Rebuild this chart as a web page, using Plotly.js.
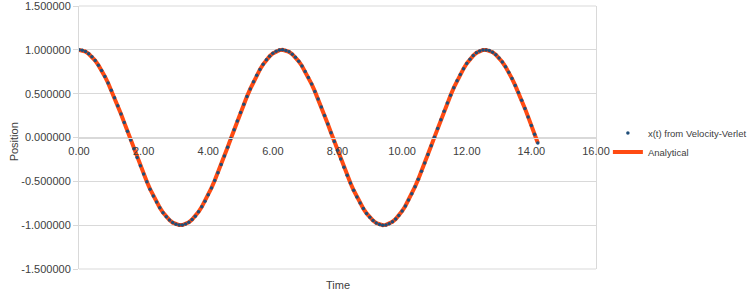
<!DOCTYPE html>
<html><head><meta charset="utf-8">
<script src="https://cdn.plot.ly/plotly-3.0.1.min.js"></script>
<style>html,body{margin:0;padding:0;background:#fff}#c{width:750px;height:291px}</style>
</head><body><div id="c"></div>
<script>
const time = [0.0,0.1,0.2,0.3,0.4,0.5,0.6,0.7,0.8,0.9,1.0,1.1,1.2,1.3,1.4,1.5,1.6,1.7,1.8,1.9,2.0,2.1,2.2,2.3,2.4,2.5,2.6,2.7,2.8,2.9,3.0,3.1,3.2,3.3,3.4,3.5,3.6,3.7,3.8,3.9,4.0,4.1,4.2,4.3,4.4,4.5,4.6,4.7,4.8,4.9,5.0,5.1,5.2,5.3,5.4,5.5,5.6,5.7,5.8,5.9,6.0,6.1,6.2,6.3,6.4,6.5,6.6,6.7,6.8,6.9,7.0,7.1,7.2,7.3,7.4,7.5,7.6,7.7,7.8,7.9,8.0,8.1,8.2,8.3,8.4,8.5,8.6,8.7,8.8,8.9,9.0,9.1,9.2,9.3,9.4,9.5,9.6,9.7,9.8,9.9,10.0,10.1,10.2,10.3,10.4,10.5,10.6,10.7,10.8,10.9,11.0,11.1,11.2,11.3,11.4,11.5,11.6,11.7,11.8,11.9,12.0,12.1,12.2,12.3,12.4,12.5,12.6,12.7,12.8,12.9,13.0,13.1,13.2,13.3,13.4,13.5,13.6,13.7,13.8,13.9,14.0,14.1,14.2];
const positionVerlet = [1.000,0.995,0.980,0.955,0.921,0.878,0.825,0.765,0.697,0.622,0.540,0.454,0.362,0.267,0.170,0.071,-0.029,-0.129,-0.227,-0.323,-0.416,-0.505,-0.589,-0.666,-0.737,-0.801,-0.857,-0.904,-0.942,-0.971,-0.990,-0.999,-0.998,-0.987,-0.967,-0.936,-0.897,-0.848,-0.791,-0.726,-0.654,-0.575,-0.490,-0.401,-0.307,-0.211,-0.112,-0.012,0.088,0.187,0.284,0.378,0.469,0.554,0.635,0.709,0.776,0.835,0.886,0.927,0.960,0.983,0.997,1.000,0.993,0.977,0.950,0.914,0.869,0.816,0.754,0.685,0.609,0.526,0.439,0.347,0.251,0.153,0.054,-0.046,-0.146,-0.244,-0.339,-0.432,-0.520,-0.602,-0.679,-0.748,-0.811,-0.866,-0.911,-0.948,-0.976,-0.992,-1.000,-0.997,-0.985,-0.962,-0.930,-0.889,-0.839,-0.781,-0.714,-0.641,-0.561,-0.475,-0.386,-0.291,-0.194,-0.095,0.004,0.104,0.203,0.300,0.394,0.483,0.568,0.647,0.720,0.785,0.844,0.894,0.934,0.966,0.986,0.998,0.999,0.991,0.973,0.945,0.907,0.861,0.806,0.743,0.672,0.594,0.512,0.424,0.332,0.235,0.137,0.037,-0.063];
const positionAnalytical = [1.000,0.995,0.980,0.955,0.921,0.878,0.825,0.765,0.697,0.622,0.540,0.454,0.362,0.267,0.170,0.071,-0.029,-0.129,-0.227,-0.323,-0.416,-0.505,-0.589,-0.666,-0.737,-0.801,-0.857,-0.904,-0.942,-0.971,-0.990,-0.999,-0.998,-0.987,-0.967,-0.936,-0.897,-0.848,-0.791,-0.726,-0.654,-0.575,-0.490,-0.401,-0.307,-0.211,-0.112,-0.012,0.088,0.187,0.284,0.378,0.469,0.554,0.635,0.709,0.776,0.835,0.886,0.927,0.960,0.983,0.997,1.000,0.993,0.977,0.950,0.914,0.869,0.816,0.754,0.685,0.609,0.526,0.439,0.347,0.251,0.153,0.054,-0.046,-0.146,-0.244,-0.339,-0.432,-0.520,-0.602,-0.679,-0.748,-0.811,-0.866,-0.911,-0.948,-0.976,-0.992,-1.000,-0.997,-0.985,-0.962,-0.930,-0.889,-0.839,-0.781,-0.714,-0.641,-0.561,-0.475,-0.386,-0.291,-0.194,-0.095,0.004,0.104,0.203,0.300,0.394,0.483,0.568,0.647,0.720,0.785,0.844,0.894,0.934,0.966,0.986,0.998,0.999,0.991,0.973,0.945,0.907,0.861,0.806,0.743,0.672,0.594,0.512,0.424,0.332,0.235,0.137,0.037,-0.063];
const seriesNames = ["x(t) from Velocity-Verlet", "Analytical"];
const xTicks = [0,2,4,6,8,10,12,14,16];
const xTickLabels = ["0.00","2.00","4.00","6.00","8.00","10.00","12.00","14.00","16.00"];
const yTicks = [-1.5,-1,-0.5,0,0.5,1,1.5];
const yTickLabels = ["-1.500000","-1.000000","-0.500000","0.000000","0.500000","1.000000","1.500000"];

const font = {family: "Liberation Sans, Arial, sans-serif", size: 11, color: "#404040"};
const legendFont = {family: "Liberation Sans, Arial, sans-serif", size: 9.5, color: "#404040"};
const traces = [
  {x: time, y: positionAnalytical, name: seriesNames[1], mode: "lines",
   line: {color: "#ff4b12", width: 4}, legendrank: 2},
  {x: time, y: positionVerlet, name: seriesNames[0], mode: "markers",
   marker: {color: "#1f4e79", size: 3.5}, legendrank: 1}
];
const layout = {
  width: 750, height: 291,
  margin: {l: 79, r: 154, t: 6, b: 22, autoexpand: false},
  paper_bgcolor: "#fff", plot_bgcolor: "#fff",
  font: font,
  showlegend: true,
  legend: {x: 1.023, y: 0.481, xanchor: "left", yanchor: "middle", font: legendFont,
           itemwidth: 30, bgcolor: "rgba(0,0,0,0)", tracegroupgap: 0, traceorder: "normal"},
  xaxis: {range: [0, 16], tickvals: xTicks, ticktext: xTickLabels,
          anchor: "free", position: 0.5, showgrid: false, zeroline: false,
          showline: true, linecolor: "#d9d9d9", linewidth: 1,
          ticks: "", ticklabelstandoff: 3, tickfont: font, fixedrange: true},
  yaxis: {range: [-1.5, 1.5], tickvals: yTicks, ticktext: yTickLabels,
          showgrid: true, gridcolor: "#d9d9d9", gridwidth: 1, zeroline: false,
          showline: true, mirror: true, linecolor: "#d9d9d9", linewidth: 1,
          ticks: "outside", ticklen: 5, tickcolor: "#d9d9d9", tickfont: font,
          ticklabeloverflow: "allow", fixedrange: true},
  shapes: [{type: "line", xref: "paper", yref: "paper", x0: 0, x1: 1, y0: 1, y1: 1,
            line: {color: "#d9d9d9", width: 1}},
           {type: "line", xref: "paper", yref: "paper", x0: 0, x1: 1, y0: 0, y1: 0,
            line: {color: "#d9d9d9", width: 1}}],
  annotations: [{text: "Time", xref: "paper", yref: "paper", x: 0.5, y: -0.06,
                 xanchor: "center", yanchor: "middle", showarrow: false, font: font},
                {text: "Position", xref: "paper", yref: "paper", x: -0.124, y: 0.485,
                 xanchor: "center", yanchor: "middle", textangle: -90, showarrow: false, font: font}]
};
Plotly.newPlot("c", traces, layout, {displayModeBar: false, staticPlot: true});
</script></body></html>
